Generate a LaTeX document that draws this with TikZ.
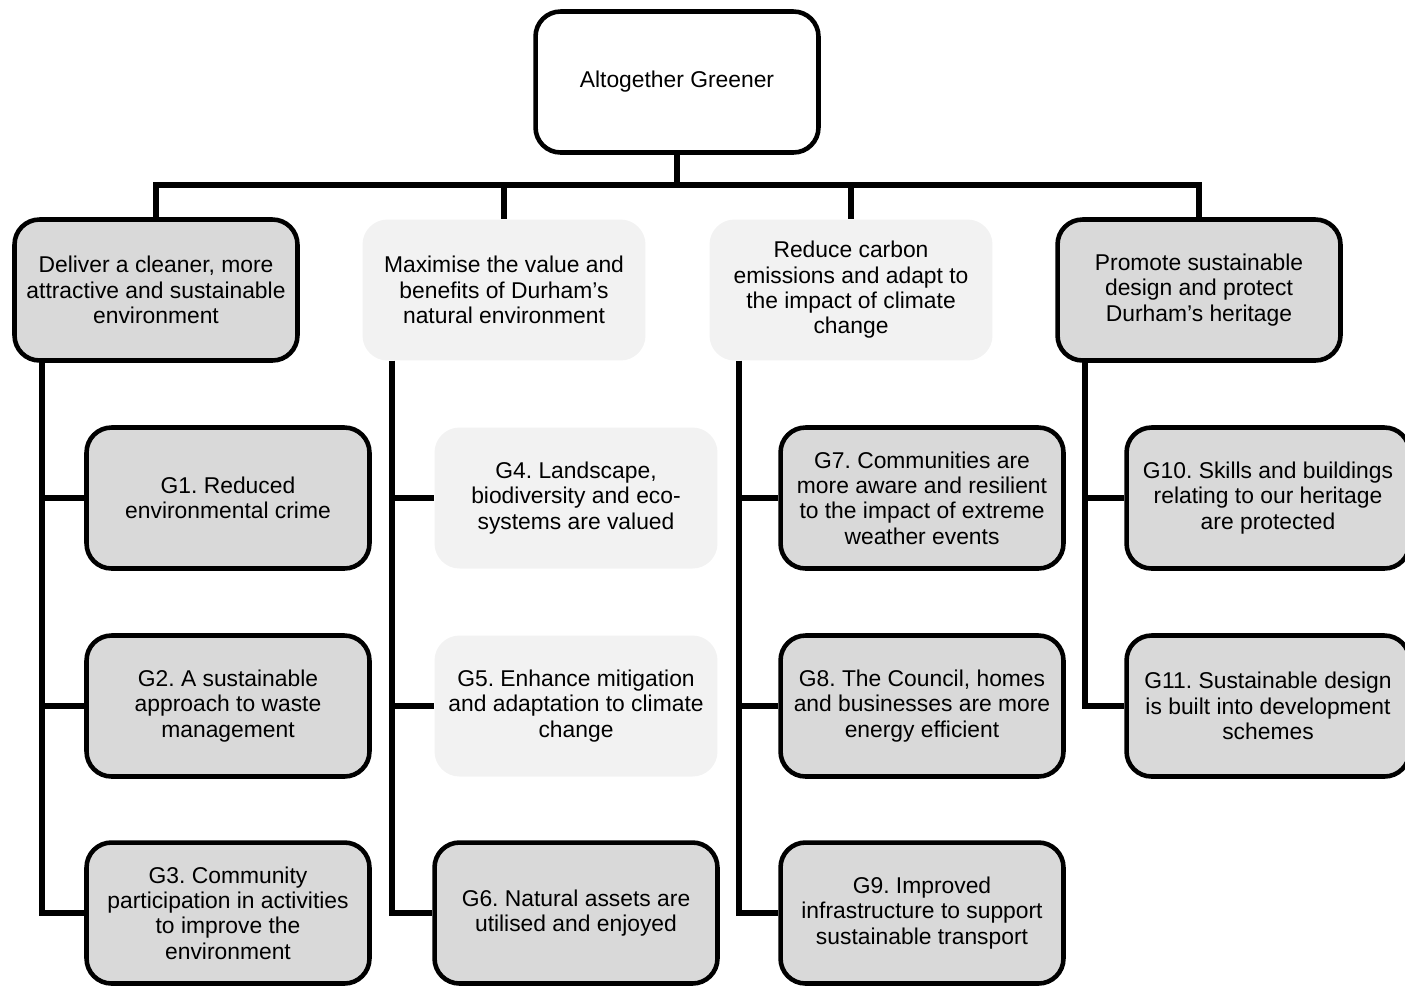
\documentclass[tikz,border=0pt]{standalone}
\usepackage{fontspec}
\setmainfont{Liberation Sans}
\frenchspacing
\definecolor{boxgrey}{HTML}{D9D9D9}
\definecolor{boxpale}{HTML}{F2F2F2}
\tikzset{
  aim/.style={rounded corners=0.5cm, minimum width=5.66cm, minimum height=2.82cm,
    align=center, inner sep=2pt, font=\fontsize{13}{14.4}\selectfont},
  dark/.style={aim, draw, line width=2.6pt, fill=boxgrey},
  pale/.style={aim, fill=boxpale},
  link/.style={line width=3.2pt}
}
\begin{document}
\begin{tikzpicture}[x=0.02cm, y=-0.02cm]
                \useasboundingbox (0,0) rectangle (1405,985) ;
                \node [aim, draw, line width=2.6pt, fill=white] (top) at (677,82) {Altogether Greener} ;
                \node [dark] (clean) at (156,290) {Deliver a cleaner, more\\attractive and sustainable\\environment} ;
                \node [pale] (nature) at (504,290) {Maximise the value and\\benefits of Durham’s\\natural environment} ;
                \node [pale] (carbon) at (851,290) {Reduce carbon\\emissions and adapt to\\the impact of climate\\change} ;
                \node [dark] (heritage) at (1199,290) {Promote sustainable\\design and protect\\Durham’s heritage} ;
                \node [dark] (g1) at (228,498) {G1. Reduced\\environmental crime} ;
                \node [dark] (g2) at (228,706) {G2. A sustainable\\approach to waste\\management} ;
                \node [dark] (g3) at (228,913) {G3. Community\\participation in activities\\to improve the\\environment} ;
                \node [pale] (g4) at (576,498) {G4. Landscape,\\biodiversity and eco-\\systems are valued} ;
                \node [pale] (g5) at (576,706) {G5. Enhance mitigation\\and adaptation to climate\\change} ;
                \node [dark] (g6) at (576,913) {G6. Natural assets are\\utilised and enjoyed} ;
                \node [dark] (g7) at (922,498) {G7. Communities are\\more aware and resilient\\to the impact of extreme\\weather events} ;
                \node [dark] (g8) at (922,706) {G8. The Council, homes\\and businesses are more\\energy efficient} ;
                \node [dark] (g9) at (922,913) {G9. Improved\\infrastructure to support\\sustainable transport} ;
                \node [dark] (g10) at (1268,498) {G10. Skills and buildings\\relating to our heritage\\are protected} ;
                \node [dark] (g11) at (1268,706) {G11. Sustainable design\\is built into development\\schemes} ;
                \coordinate (bus) at (677,185) ;
                \draw [link] (top.south) -- (bus) ;
                \foreach \aim in {clean,nature,carbon,heritage}
                    \draw [link] (bus) -| (\aim.north) ;
                \coordinate (sclean) at ([xshift=0.6cm]clean.south west) ;
                \coordinate (snature) at ([xshift=0.6cm]nature.south west) ;
                \coordinate (scarbon) at ([xshift=0.6cm]carbon.south west) ;
                \coordinate (sheritage) at ([xshift=0.6cm]heritage.south west) ;
                \foreach \s/\g in {sclean/g1,sclean/g2,sclean/g3,snature/g4,snature/g5,snature/g6,
                                   scarbon/g7,scarbon/g8,scarbon/g9,sheritage/g10,sheritage/g11}
                    \draw [link] (\s) |- (\g.west) ;
            \end{tikzpicture}
\end{document}
